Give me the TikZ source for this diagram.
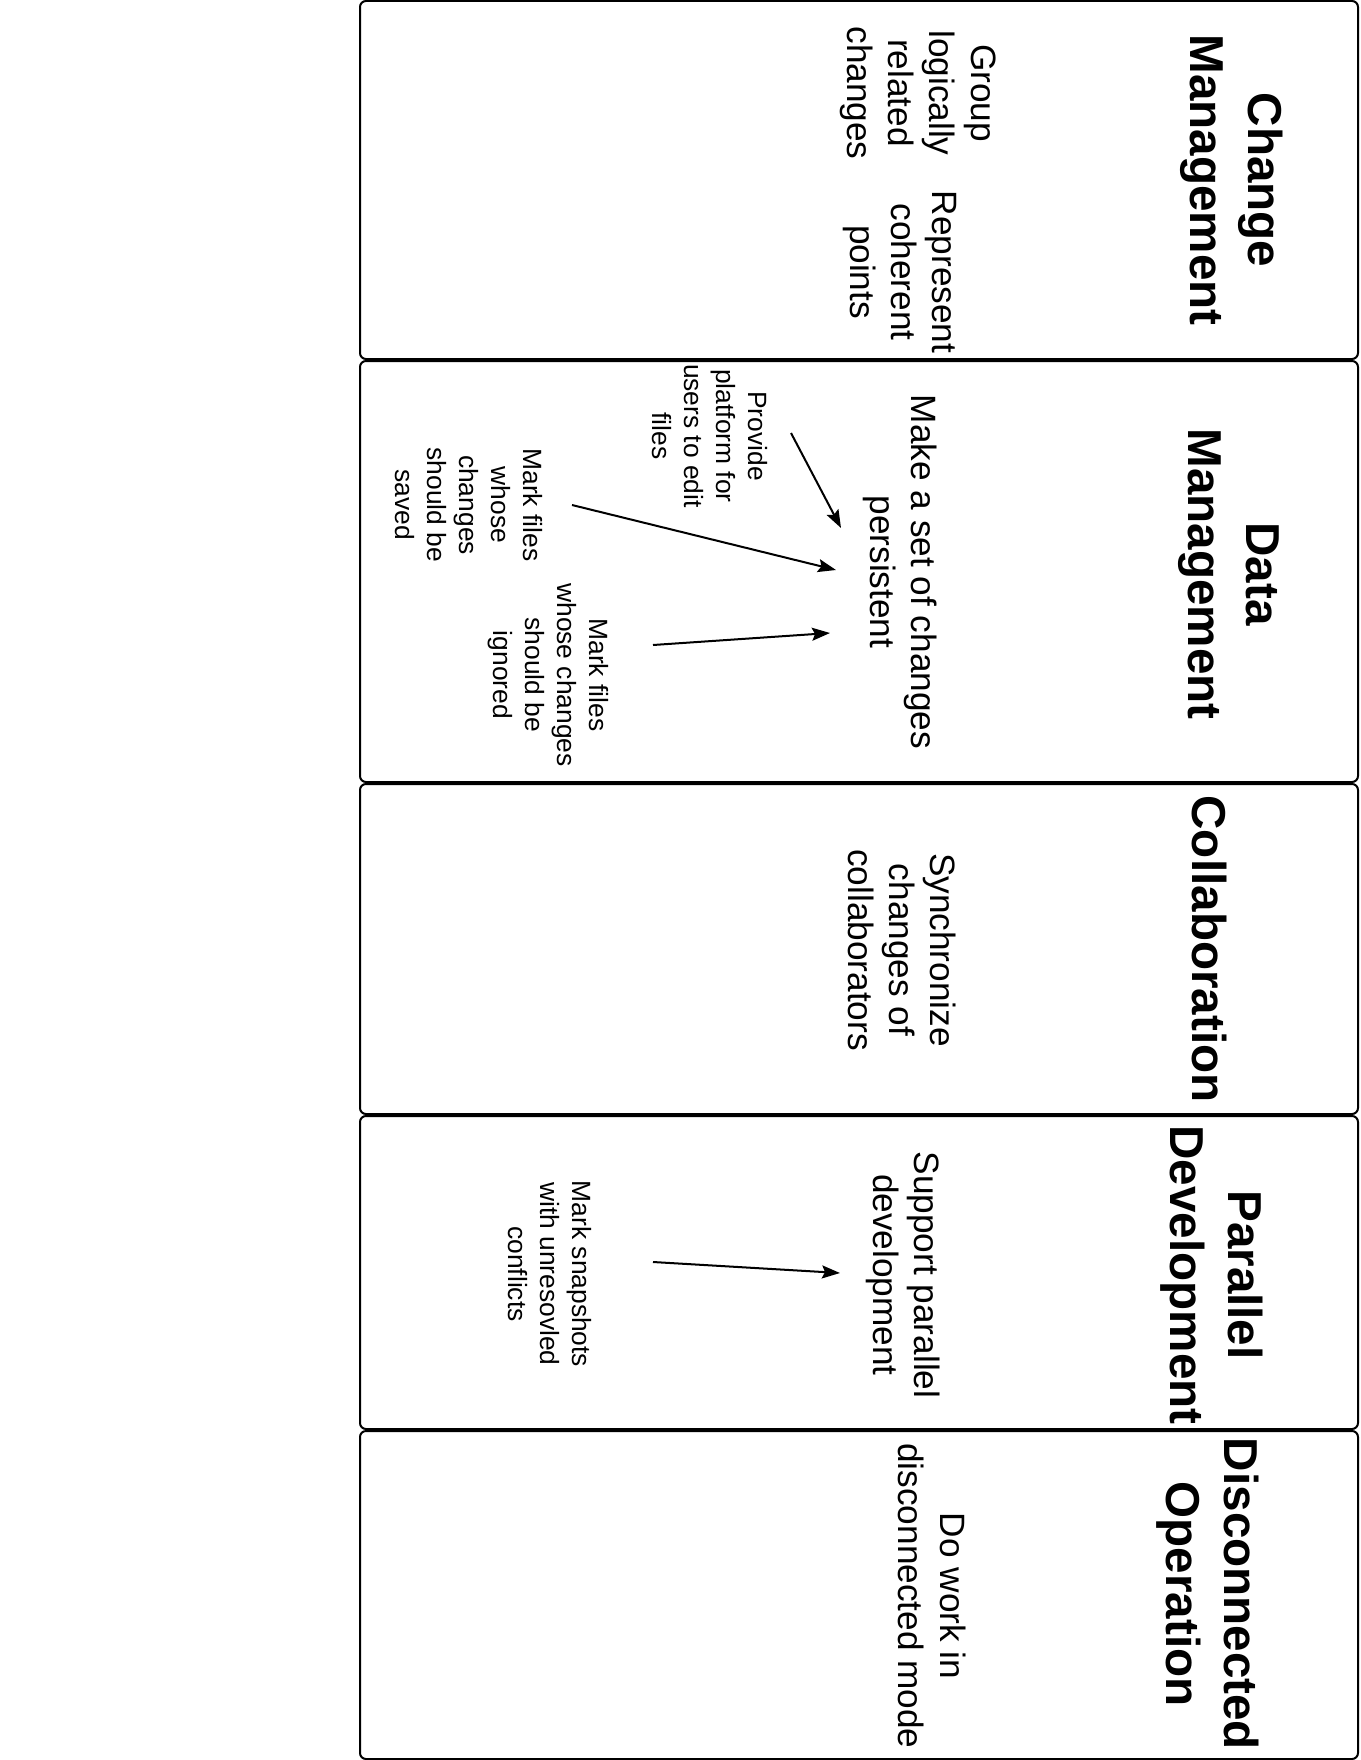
\documentclass[tikz,border=0pt]{standalone}
\usepackage{fontspec}
\setmainfont{Liberation Sans}
\usetikzlibrary{arrows.meta}

\begin{document}
\begin{tikzpicture}[x=0.5pt,y=-0.5pt,>={Stealth[length=9pt,width=6.5pt,inset=1.5pt]},panel/.style={draw,line width=1pt,rounded corners=3pt,minimum width=499pt},title/.style={rotate=-90,align=center,inner sep=0pt,font=\fontsize{23.8}{29}\selectfont\bfseries},goal/.style={rotate=-90,align=center,inner sep=0pt,font=\fontsize{17.6}{20.6}\selectfont},hint/.style={rotate=-90,align=center,inner sep=0pt,font=\fontsize{13.2}{16}\selectfont},link/.style={->,line width=1pt}]
  \useasboundingbox (0,0) rectangle (1360,1760);
  % five panels, top to bottom
  \node[panel,minimum height=179pt] (changebox) at (859,180) {};
  \node[panel,minimum height=210.5pt] (databox) at (859,571.5) {};
  \node[panel,minimum height=165pt] (collabbox) at (859,949) {};
  \node[panel,minimum height=156.5pt] (parallelbox) at (859,1272.5) {};
  \node[panel,minimum height=164pt] (offlinebox) at (859,1595) {};
  % change management
  \node[title] (changetitle) at (1232,180) {Change\\Management};
  \node[goal] (group) at (918,93) {Group\\logically\\related\\changes};
  \node[goal] (represent) at (900,272) {Represent\\coherent\\points};
  % data management
  \node[title] (datatitle) at (1229,574) {Data\\Management};
  \node[goal] (persist) at (900,572) {Make a set of changes\\persistent};
  \node[hint] (provide) at (710,436) {Provide\\platform for\\users to edit\\files};
  \node[hint] (saved) at (469,505) {Mark files\\whose\\changes\\should be\\saved};
  \node[hint] (ignored) at (548,675) {Mark files\\whose changes\\should be\\ignored};
  \coordinate (provideend) at (791,433);
  \coordinate (providetip) at (841,528);
  \coordinate (savedend) at (572,505);
  \coordinate (savedtip) at (836,570);
  \coordinate (ignoredend) at (653,645);
  \coordinate (ignoredtip) at (830,633);
  \draw[link] (provideend) -- (providetip);
  \draw[link] (savedend) -- (savedtip);
  \draw[link] (ignoredend) -- (ignoredtip);
  % collaboration
  \node[title] (collabtitle) at (1209,949) {Collaboration};
  \node[goal] (sync) at (902,950) {Synchronize\\changes of\\collaborators};
  % parallel development
  \node[title] (paralleltitle) at (1212,1275) {Parallel\\Development};
  \node[goal] (support) at (903,1275) {Support parallel\\development};
  \node[hint] (conflicts) at (550,1274) {Mark snapshots\\with unresovled\\conflicts};
  \coordinate (conflictsend) at (653,1262);
  \coordinate (conflictstip) at (840,1273);
  \draw[link] (conflictsend) -- (conflictstip);
  % disconnected operation
  \node[title] (offlinetitle) at (1208,1594) {Disconnected\\Operation};
  \node[goal] (offline) at (932,1596) {Do work in\\disconnected mode};
\end{tikzpicture}
\end{document}
